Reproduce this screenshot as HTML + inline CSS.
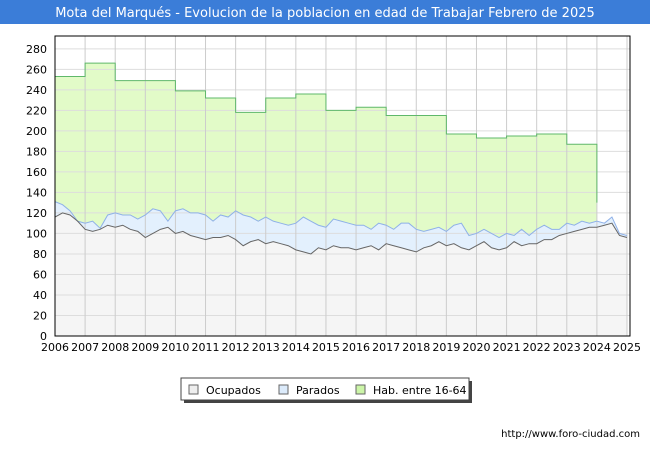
<!DOCTYPE html>
<html><head><meta charset="utf-8"><style>
body{margin:0;background:#fff;font-family:"DejaVu Sans","Liberation Sans",sans-serif;}
</style></head><body>
<svg id="c" width="650" height="450" xmlns="http://www.w3.org/2000/svg" style="display:block">
<rect x="0" y="0" width="650" height="24" fill="#3b7dd8"/>
<text x="325" y="17" text-anchor="middle" fill="#fff" font-size="13">Mota del Marqués - Evolucion de la poblacion en edad de Trabajar Febrero de 2025</text>
<g id="plot"></g>
<g>
<rect x="184" y="381" width="288" height="22" fill="#444"/>
<rect x="181" y="378" width="288" height="22" fill="#fff" stroke="#444"/>
<rect x="189" y="385" width="9" height="9" fill="#eee" stroke="#666"/>
<text x="206" y="394" font-size="11" fill="#000">Ocupados</text>
<rect x="279" y="385" width="9" height="9" fill="#dcebfb" stroke="#666"/>
<text x="296" y="394" font-size="11" fill="#000">Parados</text>
<rect x="356" y="385" width="9" height="9" fill="#ccf5a8" stroke="#666"/>
<text x="373" y="394" font-size="11" fill="#000">Hab. entre 16-64</text>
</g>
<text x="640" y="437" text-anchor="end" font-size="10" fill="#000">http://www.foro-ciudad.com</text>
</svg>
<script>
const years=[2006,2007,2008,2009,2010,2011,2012,2013,2014,2015,2016,2017,2018,2019,2020,2021,2022,2023,2024,2025];
const yTicks=[0,20,40,60,80,100,120,140,160,180,200,220,240,260,280];
const hab=[253,266,249,249,239,232,218,232,236,220,223,215,215,197,193,195,197,187];
const habEnd=130;
const totalQ=[131,128,122,112,110,112,105,118,120,118,118,114,118,124,122,112,122,124,120,120,118,112,118,116,122,118,116,112,116,112,110,108,110,116,112,108,106,114,112,110,108,108,104,110,108,104,110,110,104,102,104,106,102,108,110,98,100,104,100,96,100,98,104,98,104,108,104,104,110,108,112,110,112,110,116,100,98];
const ocupQ=[116,120,118,112,104,102,104,108,106,108,104,102,96,100,104,106,100,102,98,96,94,96,96,98,94,88,92,94,90,92,90,88,84,82,80,86,84,88,86,86,84,86,88,84,90,88,86,84,82,86,88,92,88,90,86,84,88,92,86,84,86,92,88,90,90,94,94,98,100,102,104,106,106,108,110,98,96];
const X0=55,X1=627,Y0=336,Y1=36,VMAX=292.5;
const x=t=>X0+(t-2006)*(X1-X0)/19;
const y=v=>Y0-v*(Y0-Y1)/VMAX;
const ns="http://www.w3.org/2000/svg";
const g=document.getElementById('plot');
function mk(tag,at){const e=document.createElementNS(ns,tag);for(const k in at)e.setAttribute(k,at[k]);g.appendChild(e);return e;}
let e=mk('rect',{x:X0,y:Y1,width:X1-X0+3,height:Y0-Y1,fill:'#fff'});

// hab area
let hp=`M${x(2006)},${y(0)}`;
hab.forEach((v,i)=>{hp+=` L${x(2006+i)},${y(v)} L${x(2007+i)},${y(v)}`;});
hp+=` L${x(2024)},${y(habEnd)} L${x(2024)},${y(0)} Z`;
e=mk('path',{d:hp,fill:'#e2fbc8',stroke:'none'});

const tq=i=>2006+i*0.25;
let tp=`M${x(2006)},${y(0)}`;totalQ.forEach((v,i)=>tp+=` L${x(tq(i))},${y(v)}`);tp+=` L${x(tq(totalQ.length-1))},${y(0)} Z`;
e=mk('path',{d:tp,fill:'#e3f0fd'});

let op=`M${x(2006)},${y(0)}`;ocupQ.forEach((v,i)=>op+=` L${x(tq(i))},${y(v)}`);op+=` L${x(tq(ocupQ.length-1))},${y(0)} Z`;
e=mk('path',{d:op,fill:'#f5f5f5'});

// grid
yTicks.forEach(v=>{let l=mk('line',{x1:X0,x2:X1+3,y1:y(v),y2:y(v),stroke:'#ddd'});

let t=mk('text',{x:X0-8,y:y(v)+4,'text-anchor':'end','font-size':'11',fill:'#000'});t.textContent=v;
});
years.forEach(yr=>{let l=mk('line',{x1:x(yr),x2:x(yr),y1:Y1,y2:Y0,stroke:'#ccc'});

let t=mk('text',{x:x(yr),y:Y0+15,'text-anchor':'middle','font-size':'11',fill:'#000'});t.textContent=yr;
});
// lines
let hl='';hab.forEach((v,i)=>{hl+=(i?' L':'M')+`${x(2006+i)},${y(v)} L${x(2007+i)},${y(v)}`;});hl+=` L${x(2024)},${y(habEnd)}`;
e=mk('path',{d:hl,fill:'none',stroke:'#5fb86a','stroke-width':1});

let tl='';totalQ.forEach((v,i)=>tl+=(i?' L':'M')+`${x(tq(i))},${y(v)}`);
e=mk('path',{d:tl,fill:'none',stroke:'#8fb1e8','stroke-width':1});

let ol='';ocupQ.forEach((v,i)=>ol+=(i?' L':'M')+`${x(tq(i))},${y(v)}`);
e=mk('path',{d:ol,fill:'none',stroke:'#666','stroke-width':1});

e=mk('rect',{x:X0,y:Y1,width:X1-X0+3,height:Y0-Y1,fill:'none',stroke:'#000'});

</script>
</body></html>
